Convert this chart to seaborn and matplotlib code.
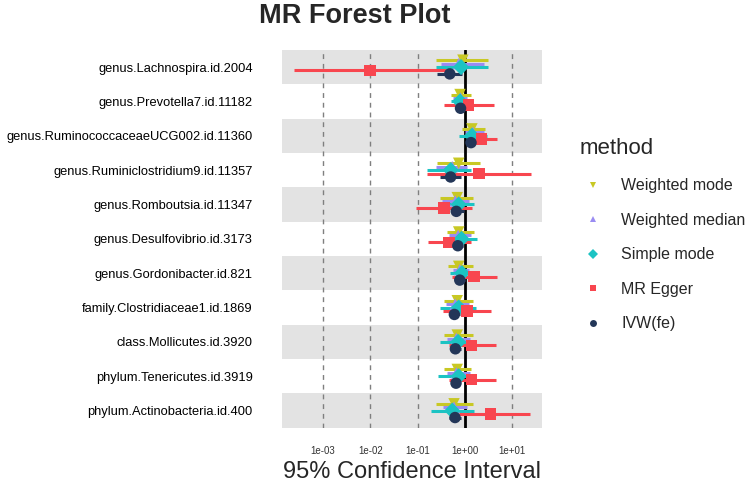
import numpy as np
import pandas as pd
import matplotlib
matplotlib.use("Agg")
import matplotlib.pyplot as plt
from matplotlib.lines import Line2D
import seaborn as sns

# exposures, top to bottom
exposures = [
    "genus.Lachnospira.id.2004",
    "genus.Prevotella7.id.11182",
    "genus.RuminococcaceaeUCG002.id.11360",
    "genus.Ruminiclostridium9.id.11357",
    "genus.Romboutsia.id.11347",
    "genus.Desulfovibrio.id.3173",
    "genus.Gordonibacter.id.821",
    "family.Clostridiaceae1.id.1869",
    "class.Mollicutes.id.3920",
    "phylum.Tenericutes.id.3919",
    "phylum.Actinobacteria.id.400",
]
methods = ["Weighted mode", "Weighted median", "Simple mode", "MR Egger", "IVW(fe)"]

# odds ratio with 95% CI, one value per exposure
or_wmode = [0.91, 0.79, 1.41, 0.74, 0.69, 0.74, 0.74, 0.69, 0.69, 0.69, 0.59]
lo_wmode = [0.245, 0.52, 0.85, 0.26, 0.30, 0.41, 0.43, 0.36, 0.36, 0.36, 0.24]
hi_wmode = [3.02, 1.32, 2.63, 2.14, 1.48, 1.58, 1.48, 1.51, 1.51, 1.35, 1.51]

or_wmedian = [0.74, 0.81, 1.48, 0.54, 0.63, 0.72, 0.78, 0.63, 0.66, 0.66, 0.59]
lo_wmedian = [0.31, 0.56, 1.00, 0.24, 0.33, 0.46, 0.56, 0.39, 0.41, 0.41, 0.35]
hi_wmedian = [2.51, 1.12, 2.51, 1.12, 1.20, 1.32, 1.20, 1.20, 1.29, 1.29, 1.12]

or_smode = [0.83, 0.79, 1.41, 0.50, 0.74, 0.85, 0.87, 0.74, 0.72, 0.74, 0.54]
lo_smode = [0.245, 0.52, 0.74, 0.155, 0.36, 0.50, 0.48, 0.30, 0.30, 0.27, 0.195]
hi_smode = [3.02, 1.20, 2.88, 1.32, 1.58, 1.82, 1.32, 1.70, 1.55, 1.55, 1.58]

or_egger = [0.0098, 1.20, 2.24, 2.00, 0.36, 0.46, 1.55, 1.12, 1.38, 1.38, 3.47]
lo_egger = [0.000245, 0.36, 1.12, 0.158, 0.093, 0.166, 0.54, 0.35, 0.46, 0.46, 0.74]
hi_egger = [0.39, 4.07, 4.68, 24.5, 1.41, 1.38, 4.68, 3.63, 4.47, 4.47, 23.4]

or_ivw = [0.48, 0.81, 1.35, 0.50, 0.66, 0.71, 0.78, 0.60, 0.63, 0.65, 0.62]
lo_ivw = [0.26, 0.69, 1.12, 0.30, 0.50, 0.54, 0.63, 0.46, 0.50, 0.50, 0.46]
hi_ivw = [0.87, 1.02, 1.70, 0.81, 0.95, 0.92, 1.03, 0.78, 0.81, 0.78, 0.81]

palette = {
    "Weighted mode": "#C8C824",
    "Weighted median": "#9A8CF2",
    "Simple mode": "#1CC3C3",
    "MR Egger": "#F8464F",
    "IVW(fe)": "#233658",
}
markers = {
    "Weighted mode": "v",
    "Weighted median": "^",
    "Simple mode": "D",
    "MR Egger": "s",
    "IVW(fe)": "o",
}

tables = [
    (or_wmode, lo_wmode, hi_wmode),
    (or_wmedian, lo_wmedian, hi_wmedian),
    (or_smode, lo_smode, hi_smode),
    (or_egger, lo_egger, hi_egger),
    (or_ivw, lo_ivw, hi_ivw),
]
frames = []
for k, (m, (est, lo, hi)) in enumerate(zip(methods, tables)):
    frames.append(pd.DataFrame({
        "exposure": exposures,
        "method": m,
        "or": est,
        "lo": lo,
        "hi": hi,
        # dodge within each row
        "ypos": np.arange(len(exposures)) + (k - 2) * 0.1,
    }))
df = pd.concat(frames, ignore_index=True)

sns.set_theme(style="white")
plt.rcParams["font.family"] = ["Liberation Sans", "DejaVu Sans"]

fig = plt.figure(figsize=(7.54, 4.84), dpi=100)
ax = fig.add_axes([0.374, 0.116, 0.345, 0.781])

# alternating bands
for i in range(len(exposures)):
    if i % 2 == 0:
        ax.axhspan(i - 0.5, i + 0.5, color="#E3E3E3", lw=0, zorder=0)

for t in [1e-3, 1e-2, 1e-1, 1e1]:
    ax.axvline(t, color="#7F7F7F", lw=1, ls=(0, (3.5, 3.5)), zorder=1)
ax.axvline(1, color="black", lw=2, zorder=1.5)

for m in methods:
    sub = df[df["method"] == m]
    ax.hlines(sub["ypos"], sub["lo"], sub["hi"], color=palette[m], lw=2.2, zorder=2)

sns.scatterplot(data=df, x="or", y="ypos", hue="method", style="method",
                palette=palette, markers=markers, s=68, linewidth=0,
                legend=False, ax=ax, zorder=3)

ax.set_xscale("log")
ax.set_xlim(10 ** -3.867, 10 ** 1.634)
ax.set_ylim(len(exposures) - 0.5, -0.5)
ax.set_yticks(range(len(exposures)))
ax.set_yticklabels(exposures, fontsize=9.3, color="black")
ax.set_xticks([1e-3, 1e-2, 1e-1, 1e0, 1e1])
ax.set_xticklabels(["1e-03", "1e-02", "1e-01", "1e+00", "1e+01"], fontsize=7, color="#333333")
ax.minorticks_off()
ax.tick_params(axis="y", length=0, pad=21)
ax.tick_params(axis="x", length=0, pad=13)
ax.set_xlabel("95% Confidence Interval", fontsize=17, labelpad=4)
ax.set_ylabel("")
for s in ax.spines.values():
    s.set_visible(False)

fig.text(0.471, 0.966, "MR Forest Plot", fontsize=19.5, fontweight="bold",
         ha="center", va="center")

handles = [Line2D([], [], ls="", marker=markers[m], color=palette[m],
                  markersize=5, markeredgewidth=0) for m in methods]
leg = fig.legend(handles, methods, loc="upper left", bbox_to_anchor=(0.75, 0.745),
                 frameon=False, title="method", fontsize=11.5, title_fontsize=16,
                 labelspacing=1.22, handletextpad=1.0, handlelength=1.6)
leg._legend_box.align = "left"

fig.savefig("out.png", dpi=100)
